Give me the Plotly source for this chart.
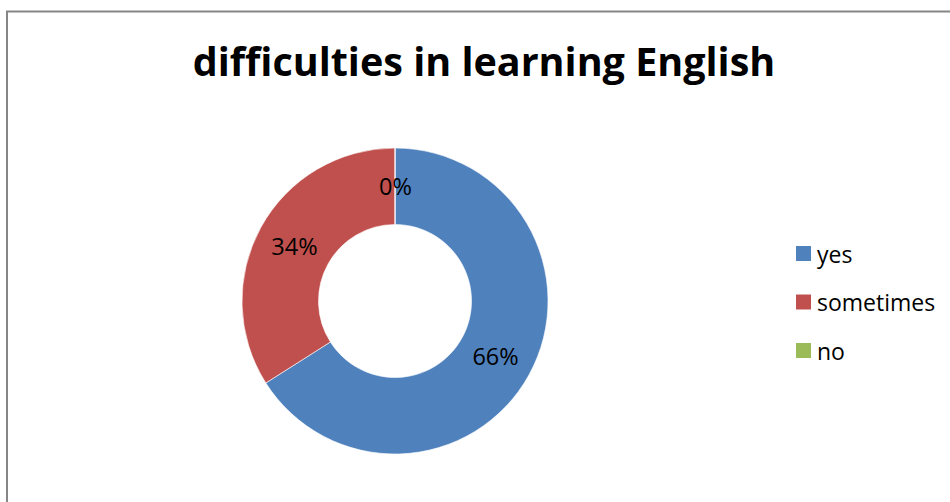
import math
import plotly.graph_objects as go

# Survey answers and their share of respondents (percent)
labels = ["yes", "sometimes", "no"]
values = [66, 34, 0]
colors = ["#4F81BD", "#C0504D", "#9BBB59"]
title_text = "difficulties in learning English"

W, H = 950, 502
FONT = "Open Sans"
LABEL_SIZE = 23.5

# Donut geometry in pixels (center and outer radius)
cx, cy, r_out = 395, 301, 153
hole = 0.5

fig = go.Figure()
fig.add_trace(go.Pie(
    labels=labels,
    values=values,
    marker=dict(colors=colors, line=dict(color="white", width=0.6)),
    hole=hole,
    sort=False,
    direction="clockwise",
    rotation=0,
    texttemplate="%{percent:.0%}",
    textposition="inside",
    insidetextorientation="horizontal",
    textfont=dict(family=FONT, size=LABEL_SIZE, color="black"),
    showlegend=False,
    domain=dict(
        x=[(cx - r_out) / W, (cx + r_out) / W],
        y=[1 - (cy + r_out) / H, 1 - (cy - r_out) / H],
    ),
))

shapes = []
annotations = []

# Zero-valued slices get no inside text from the pie, so label them at
# their angular position on the middle of the ring
total = sum(values)
cum = 0
r_mid = (hole * r_out + r_out) / 2
for v in values:
    if v == 0:
        ang = 2 * math.pi * (cum / total)  # clockwise from 12 o'clock
        px = cx + r_mid * math.sin(ang)
        py = cy - r_mid * math.cos(ang)
        annotations.append(dict(
            text=f"{v / total:.0%}", xref="paper", yref="paper",
            x=px / W, y=1 - py / H, xanchor="center", yanchor="middle",
            showarrow=False,
            font=dict(family=FONT, size=LABEL_SIZE, color="black"),
        ))
    cum += v

# Legend: colour swatch + label per category
legend_y = [253.5, 302, 350.5]
for lab, col, ly in zip(labels, colors, legend_y):
    shapes.append(dict(
        type="rect", xref="paper", yref="paper",
        x0=796 / W, x1=811 / W,
        y0=1 - (ly + 7.5) / H, y1=1 - (ly - 7.5) / H,
        fillcolor=col, line=dict(width=0),
    ))
    annotations.append(dict(
        text=lab, xref="paper", yref="paper",
        x=815 / W, y=1 - ly / H, xanchor="left", yanchor="middle",
        showarrow=False, font=dict(family=FONT, size=23, color="black"),
    ))

# Chart area frame
shapes.append(dict(
    type="rect", xref="paper", yref="paper",
    x0=7 / W, x1=1.02, y0=-0.02, y1=1 - 11.5 / H,
    line=dict(color="#868686", width=2), fillcolor="rgba(0,0,0,0)",
))

fig.update_layout(
    width=W, height=H,
    margin=dict(l=0, r=0, t=0, b=0),
    paper_bgcolor="white",
    plot_bgcolor="white",
    title=dict(
        text="<b>" + title_text + "</b>",
        x=484 / W, xanchor="center",
        y=1 - 62 / H, yanchor="middle",
        yref="paper", xref="paper",
        font=dict(family=FONT, size=39.5, color="black"),
    ),
    shapes=shapes,
    annotations=annotations,
)

fig.write_html("out.html")
